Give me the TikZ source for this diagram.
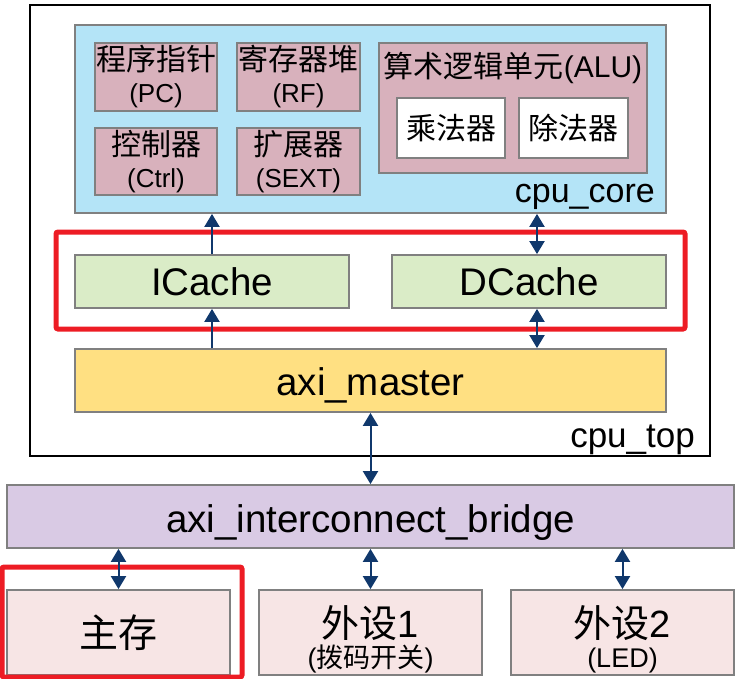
\documentclass[tikz,border=0pt]{standalone}
\usepackage{fontspec}
\setmainfont{Liberation Sans}
\newfontfamily\cjk{Noto Sans CJK SC}
\usetikzlibrary{arrows.meta}
\definecolor{boxgray}{RGB}{128,128,128}
\definecolor{corefill}{RGB}{180,228,247}
\definecolor{pinkfill}{RGB}{216,177,188}
\definecolor{cachefill}{RGB}{218,236,199}
\definecolor{axifill}{RGB}{255,224,130}
\definecolor{bridgefill}{RGB}{217,202,228}
\definecolor{devfill}{RGB}{247,229,229}
\definecolor{arrowblue}{RGB}{16,56,108}
\definecolor{hlred}{RGB}{237,28,36}
\begin{document}
\begin{tikzpicture}[x=1pt,y=-1pt,
  box/.style={draw=boxgray,line width=1.8pt,inner sep=0pt,anchor=center,align=center},
  pinkbox/.style={box,fill=pinkfill},
  bigtxt/.style={font=\fontsize{38.5}{40}\selectfont,text depth=0pt},
  devtxt/.style={inner sep=0pt,align=center,font=\fontsize{27}{38}\selectfont},
  conn/.style={draw=arrowblue,line width=2pt,-{Triangle[width=15pt,length=13pt]}},
  biconn/.style={draw=arrowblue,line width=2pt,{Triangle[width=15pt,length=13pt]}-{Triangle[width=15pt,length=13pt]}},
  hl/.style={draw=hlred,line width=5pt,rounded corners=2pt},
  lbl/.style={inner sep=0pt,anchor=base east,font=\fontsize{35}{36}\selectfont}]
\useasboundingbox (0,0) rectangle (741,679);
% cpu_top
\node[draw=black,line width=2pt,minimum width=680pt,minimum height=451pt,inner sep=0pt] (cputop) at (370,230.5) {};
\node[lbl] (cputoplbl) at (695,447) {cpu\_top};
% cpu_core
\node[box,fill=corefill,minimum width=591pt,minimum height=188pt] (cpucore) at (370.5,119) {};
\node[lbl,font=\fontsize{34}{35}\selectfont] (cpucorelbl) at (655,203) {cpu\_core};
% inner units
\node[pinkbox,minimum width=122pt,minimum height=68pt,font=\fontsize{26}{32}\selectfont] (pc) at (156,77) {{\cjk\fontsize{30}{32}\selectfont 程序指针}\\(PC)};
\node[pinkbox,minimum width=123pt,minimum height=68pt,font=\fontsize{26}{32}\selectfont] (rf) at (298.5,77) {{\cjk\fontsize{30}{32}\selectfont 寄存器堆}\\(RF)};
\node[pinkbox,minimum width=122pt,minimum height=67pt,font=\fontsize{26}{32}\selectfont] (ctrl) at (156,161.5) {{\cjk\fontsize{30}{32}\selectfont 控制器}\\(Ctrl)};
\node[pinkbox,minimum width=123pt,minimum height=67pt,font=\fontsize{26}{32}\selectfont] (sext) at (298.5,161.5) {{\cjk\fontsize{30}{32}\selectfont 扩展器}\\(SEXT)};
\node[pinkbox,minimum width=268pt,minimum height=130pt] (alu) at (513,108) {};
\node[inner sep=0pt,font=\fontsize{30}{32}\selectfont] (alulbl) at (513,68) {{\cjk 算术逻辑单元}(ALU)};
\node[box,fill=white,minimum width=108pt,minimum height=60pt,font=\cjk\fontsize{30}{32}\selectfont] (mul) at (451,128) {乘法器};
\node[box,fill=white,minimum width=109pt,minimum height=60pt,font=\cjk\fontsize{30}{32}\selectfont] (div) at (573.5,128) {除法器};
% caches
\node[box,fill=cachefill,bigtxt,text height=27pt,minimum width=274pt,minimum height=53pt] (icache) at (212,281.5) {ICache};
\node[box,fill=cachefill,bigtxt,text height=27pt,minimum width=274pt,minimum height=53pt] (dcache) at (529,281.5) {DCache};
\coordinate (dx) at (537,0);
\draw[hl] (56,232) rectangle (685,329);
% axi master
\node[box,fill=axifill,bigtxt,text height=29pt,minimum width=591pt,minimum height=63pt] (axim) at (370.5,380.5) {axi\_master};
% bridge
\node[box,fill=bridgefill,bigtxt,text height=32pt,minimum width=727pt,minimum height=63pt] (bridge) at (370.5,516.5) {axi\_interconnect\_bridge};
% devices
\node[box,fill=devfill,minimum width=223pt,minimum height=85pt,font=\cjk\fontsize{39}{40}\selectfont] (mem) at (118.5,632.5) {主存};
\node[box,fill=devfill,minimum width=223pt,minimum height=85pt] (p1) at (370.5,632.5) {};
\node[devtxt] (p1txt) at (370.5,639) {{\fontsize{38}{38}\selectfont{\cjk 外设}1}\\[-8pt]({\cjk 拨码开关})};
\node[box,fill=devfill,minimum width=223pt,minimum height=85pt] (p2) at (622.5,632.5) {};
\node[devtxt] (p2txt) at (622.5,639) {{\fontsize{38}{38}\selectfont{\cjk 外设}2}\\[-8pt](LED)};
\draw[hl] (2,567) rectangle (242,677);
% connectors
\draw[conn] (icache.north) -- (cpucore.south -| icache.north);
\draw[conn] (axim.north -| icache.south) -- (icache.south);
\draw[biconn] (cpucore.south -| dx) -- (dcache.north -| dx);
\draw[biconn] (dcache.south -| dx) -- (axim.north -| dx);
\draw[biconn] (axim.south) -- (bridge.north -| axim.south);
\draw[biconn] (bridge.south -| mem.north) -- (mem.north);
\draw[biconn] (bridge.south -| p1.north) -- (p1.north);
\draw[biconn] (bridge.south -| p2.north) -- (p2.north);
\end{tikzpicture}
\end{document}
